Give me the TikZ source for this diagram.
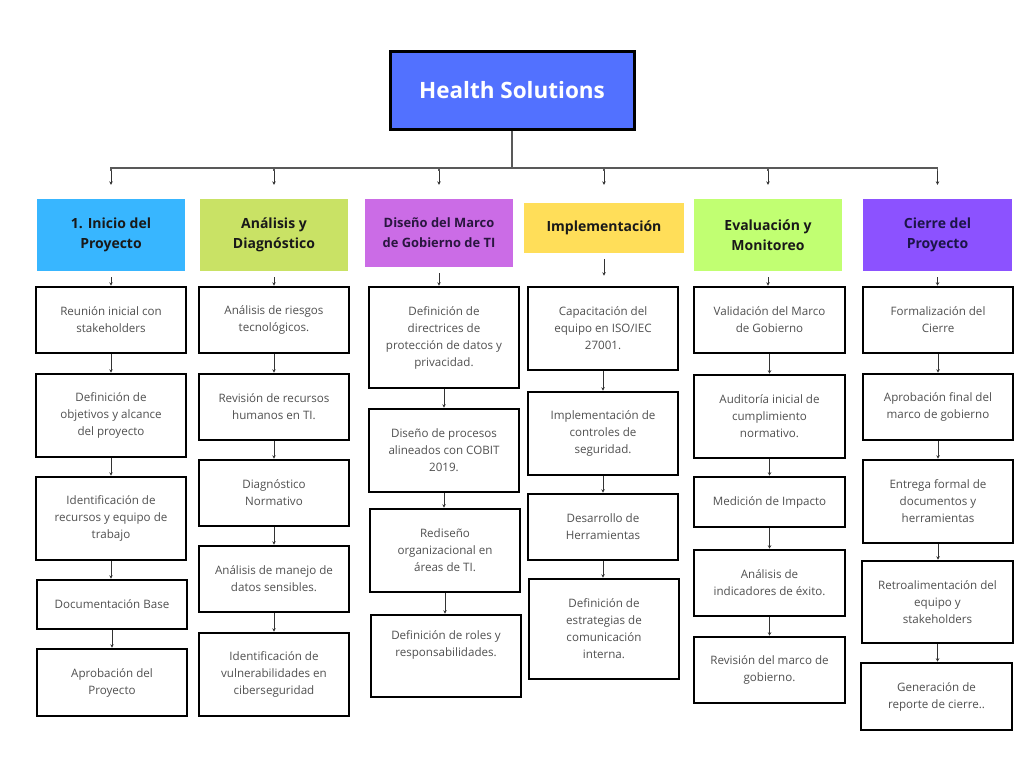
\documentclass[tikz,border=0pt]{standalone}
\usepackage{fontspec}
\setmainfont{Open Sans}
\usetikzlibrary{arrows.meta}
\definecolor{topblue}{HTML}{5271FF}
\definecolor{hA}{HTML}{38B6FF}
\definecolor{hB}{HTML}{C9E265}
\definecolor{hC}{HTML}{CB6CE6}
\definecolor{hD}{HTML}{FFDE59}
\definecolor{hE}{HTML}{C1FF72}
\definecolor{hF}{HTML}{8C52FF}
\definecolor{bodytxt}{HTML}{505050}
\definecolor{darkpurple}{HTML}{2A1640}
\definecolor{darknavy}{HTML}{1C1548}
\newcommand\bx[7]{%
  \pgfmathsetmacro\bw{#5-#3}\pgfmathsetmacro\bh{#6-#4}%
  \node[#1, minimum width=\bw pt, minimum height=\bh pt] (#2) at ({(#3+#5)/2},{(#4+#6)/2}) {#7};}
\tikzset{
  stepbox/.style={draw=black, line width=2.6pt, fill=white, inner sep=0pt, align=center,
    text=bodytxt, font=\fontsize{11.6}{17}\selectfont},
  headbox/.style={draw=none, inner sep=0pt, align=center, text=black!90,
    font=\bfseries\fontsize{14}{20.5}\selectfont},
  topbox/.style={draw=black, line width=3pt, fill=topblue, inner sep=0pt, align=center,
    text=white, font=\bfseries\fontsize{22.5}{26}\selectfont},
  arr/.style={draw=black!80, line width=1pt, -{Stealth[length=3.5pt,width=3.5pt]}},
  bus/.style={draw=black!65, line width=1.3pt},
}
\begin{document}
\begin{tikzpicture}[x=1pt,y=-1pt]
\useasboundingbox (0,0) rectangle (1024,768);
\fill[white] (0,0) rectangle (1024,768);
% top
\bx{topbox}{top}{390}{52}{634}{129}{Health Solutions}
\coordinate (busc) at (512,168);
% headers
\bx{headbox,fill=hA}{h1}{37}{199}{185}{271}{1. Inicio del\\Proyecto}
\bx{headbox,fill=hB}{h2}{200}{199}{348}{271}{Análisis y\\Diagnóstico}
\bx{headbox,fill=hC,text=darkpurple,font=\bfseries\fontsize{12.9}{20}\selectfont}{h3}{365}{199}{513}{267}{Diseño del Marco\\de Gobierno de TI}
\bx{headbox,fill=hD}{h4}{524}{203}{684}{253}{Implementación}
\bx{headbox,fill=hE}{h5}{694}{199}{842}{271}{Evaluación y\\Monitoreo}
\bx{headbox,fill=hF,text=darknavy}{h6}{863}{199}{1012}{271}{Cierre del\\Proyecto}
\draw[bus] (top.south) -- (busc);
\foreach \h/\s in {h1/14,h2/14,h3/14,h4/18,h5/14,h6/14}{
  \draw[bus] (busc) -| ([yshift=\s pt+14pt]\h.north);
  \draw[arr] ([yshift=\s pt+14pt]\h.north) -- ([yshift=\s pt]\h.north);
}
% column 1
\bx{stepbox}{c1a}{36}{287}{186}{353}{Reunión inicial con\\stakeholders}
\bx{stepbox}{c1b}{36}{374}{186}{457}{Definición de\\objetivos y alcance\\del proyecto}
\bx{stepbox}{c1c}{36}{477}{186}{560}{Identificación de\\recursos y equipo de\\trabajo}
\bx{stepbox}{c1d}{37}{580}{187}{629}{Documentación Base}
\bx{stepbox}{c1e}{37}{649}{187}{716}{Aprobación del\\Proyecto}
% column 2
\bx{stepbox}{c2a}{199}{287}{349}{353}{Análisis de riesgos\\tecnológicos.}
\bx{stepbox}{c2b}{199}{374}{349}{440}{Revisión de recursos\\humanos en TI.}
\bx{stepbox}{c2c}{199}{460}{349}{526}{Diagnóstico\\Normativo}
\bx{stepbox}{c2d}{199}{546}{349}{612}{Análisis de manejo de\\datos sensibles.}
\bx{stepbox}{c2e}{199}{633}{349}{716}{Identificación de\\vulnerabilidades en\\ciberseguridad}
% column 3
\bx{stepbox}{c3a}{369}{287}{519}{388}{Definición de\\directrices de\\protección de datos y\\privacidad.}
\bx{stepbox}{c3b}{369}{409}{519}{492}{Diseño de procesos\\alineados con COBIT\\2019.}
\bx{stepbox}{c3c}{370}{509}{520}{592}{Rediseño\\organizacional en\\áreas de TI.}
\bx{stepbox}{c3d}{371}{615}{521}{697}{Definición de roles y\\responsabilidades.\\[8pt]}
% column 4
\bx{stepbox}{c4a}{528}{287}{678}{370}{Capacitación del\\equipo en ISO/IEC\\27001.}
\bx{stepbox}{c4b}{528}{392}{678}{475}{Implementación de\\controles de\\seguridad.}
\bx{stepbox}{c4c}{528}{494}{678}{560}{Desarrollo de\\Herramientas}
\bx{stepbox}{c4d}{529}{579}{679}{679}{Definición de\\estrategias de\\comunicación\\interna.}
% column 5
\bx{stepbox}{c5a}{694}{287}{845}{353}{Validación del Marco\\de Gobierno}
\bx{stepbox}{c5b}{694}{375}{845}{458}{Auditoría inicial de\\cumplimiento\\normativo.}
\bx{stepbox}{c5c}{694}{477}{845}{527}{Medición de Impacto}
\bx{stepbox}{c5d}{694}{550}{845}{616}{Análisis de\\indicadores de éxito.}
\bx{stepbox}{c5e}{694}{637}{845}{703}{Revisión del marco de\\gobierno.}
% column 6
\bx{stepbox}{c6a}{863}{287}{1013}{353}{Formalización del\\Cierre}
\bx{stepbox}{c6b}{863}{374}{1013}{440}{Aprobación final del\\marco de gobierno}
\bx{stepbox}{c6c}{863}{460}{1013}{543}{Entrega formal de\\documentos y\\herramientas}
\bx{stepbox}{c6d}{862}{561}{1013}{643}{Retroalimentación del\\equipo y\\stakeholders}
\bx{stepbox}{c6e}{861}{663}{1012}{730}{Generación de\\reporte de cierre..}
% header to first box
\foreach \h/\c in {h1/c1a,h2/c2a,h3/c3a,h5/c5a,h6/c6a}{
  \draw[arr] ([yshift=-6pt]\h.south) -- (\h.south |- \c.north);
}
\coordinate (c4in) at ([yshift=10pt]c4a.north);
\draw[arr] ([yshift=-6pt]h4.south) -- (h4.south |- c4in);
% chains
\foreach \a/\b in {c1a/c1b,c1b/c1c,c1c/c1d,c1d/c1e,
                   c2a/c2b,c2b/c2c,c2c/c2d,c2d/c2e,
                   c3a/c3b,c3b/c3c,c3c/c3d,
                   c4a/c4b,c4b/c4c,c4c/c4d,
                   c5a/c5b,c5b/c5c,c5c/c5d,c5d/c5e,
                   c6a/c6b,c6b/c6c,c6c/c6d,c6d/c6e}{
  \draw[arr] (\a.south) -- (\a.south |- \b.north);
}
\end{tikzpicture}
\end{document}
